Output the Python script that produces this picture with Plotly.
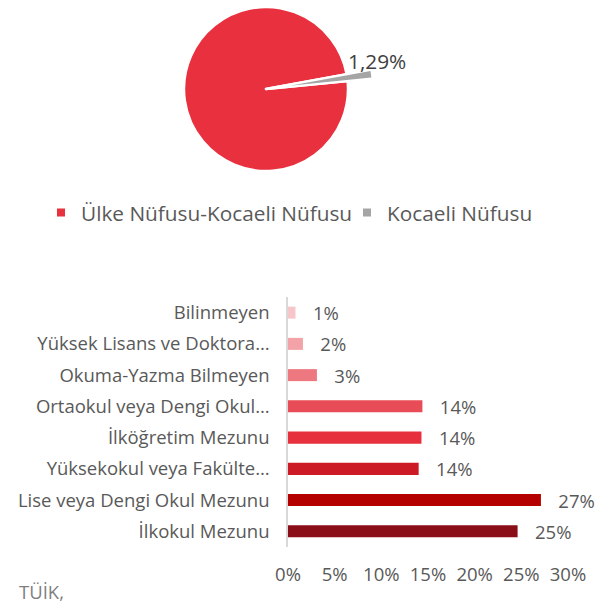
import math
import plotly.graph_objects as go

# ---------------- data ----------------
pie_labels = ["Ülke Nüfusu-Kocaeli Nüfusu", "Kocaeli Nüfusu"]
pie_values = [98.71, 1.29]
pie_colors = ["#E8303E", "#A5A5A5"]

bar_categories = [
    "Bilinmeyen",
    "Yüksek Lisans ve Doktora…",
    "Okuma-Yazma Bilmeyen",
    "Ortaokul veya Dengi Okul…",
    "İlköğretim Mezunu",
    "Yüksekokul veya Fakülte…",
    "Lise veya Dengi Okul Mezunu",
    "İlkokul Mezunu",
]
bar_values = [0.8, 1.6, 3.1, 14.4, 14.3, 14.0, 27.1, 24.6]
bar_colors = ["#F7C6CA", "#F3A3A8", "#EE7880", "#E84C57",
              "#E7303D", "#CC1B27", "#B50000", "#8A0E18"]

x_ticks = [0, 5, 10, 15, 20, 25, 30]
x_tick_labels = ["{}%".format(v) for v in x_ticks]
source_text = "TÜİK,"

# ---------------- layout constants ----------------
W, H = 608, 605
FONT = "Open Sans"
TXT = "#595959"
FS = 18.5
FS_BIG = 20.8

PIE_CX, PIE_CY, PIE_R = 266, 89, 82      # px
PULL_PX = 24
PULL_ANGLE = 82                          # clockwise from 12 o'clock (deg)

grey_span = 360 * pie_values[1] / sum(pie_values)
rotation = PULL_ANGLE + grey_span / 2


def pie_domain(cx, cy, r):
    return dict(x=[(cx - r) / W, (cx + r) / W],
                y=[(H - (cy + r)) / H, (H - (cy - r)) / H])


sin_a = math.sin(math.radians(PULL_ANGLE))
cos_a = math.cos(math.radians(PULL_ANGLE))
gcx, gcy = PIE_CX + PULL_PX * sin_a, PIE_CY - PULL_PX * cos_a
tip_x, tip_y = gcx + PIE_R * sin_a, gcy - PIE_R * cos_a
pct_text = "{:.2f}%".format(100 * pie_values[1] / sum(pie_values)).replace(".", ",")

fig = go.Figure()

# bar chart (first, so the cartesian axes are typed from it)
fig.add_trace(go.Bar(
    y=bar_categories, x=bar_values, orientation="h",
    marker=dict(color=bar_colors, line=dict(width=0)),
    texttemplate="\u00a0\u00a0\u00a0%{x:.0f}%", textposition="outside",
    outsidetextfont=dict(family=FONT, size=FS, color=TXT),
    constraintext="none", cliponaxis=False, showlegend=False,
))

# main pie (red), grey slice left transparent (it is drawn pulled out below)
fig.add_trace(go.Pie(
    labels=pie_labels, values=pie_values, sort=False, direction="clockwise",
    rotation=rotation,
    marker=dict(colors=[pie_colors[0], "rgba(0,0,0,0)"],
                line=dict(color="white", width=2.5)),
    textinfo="none", showlegend=False, hoverinfo="label+percent",
    domain=pie_domain(PIE_CX, PIE_CY, PIE_R),
))

# exploded grey slice
fig.add_trace(go.Pie(
    labels=pie_labels, values=pie_values, sort=False, direction="clockwise",
    rotation=rotation,
    marker=dict(colors=["rgba(0,0,0,0)", pie_colors[1]], line=dict(width=0)),
    textinfo="none", showlegend=False, hoverinfo="label+percent",
    domain=pie_domain(gcx, gcy, PIE_R),
))

# legend entries (on hidden axes), one legend box per entry
legend_ids = ["legend", "legend2"]
legend_x_px = [41, 347]
for lab, col, lid in zip(pie_labels, pie_colors, legend_ids):
    fig.add_trace(go.Scatter(
        x=[None], y=[None], mode="markers", name=lab,
        marker=dict(symbol="square", size=8, color=col),
        showlegend=True, hoverinfo="skip", xaxis="x2", yaxis="y2",
        legend=lid,
    ))

legend_style = dict(orientation="h", xanchor="left",
                    y=(H - 213) / H, yanchor="middle",
                    bgcolor="rgba(0,0,0,0)", borderwidth=0,
                    font=dict(family=FONT, size=FS_BIG, color=TXT),
                    itemclick=False, itemdoubleclick=False)

PLOT_L, PLOT_R = 288, 568
PLOT_T, PLOT_B = 297, 547

fig.update_layout(
    template="none",
    width=W, height=H, autosize=False,
    margin=dict(l=0, r=0, t=0, b=0, pad=0, autoexpand=False),
    paper_bgcolor="white", plot_bgcolor="white",
    separators=",.",
    font=dict(family=FONT, size=FS, color=TXT),
    bargap=0.616,
    legend=dict(x=legend_x_px[0] / W, **legend_style),
    legend2=dict(x=legend_x_px[1] / W, **legend_style),
    xaxis=dict(type="linear", domain=[PLOT_L / W, PLOT_R / W], range=[0, 30],
               tickmode="array", tickvals=x_ticks, ticktext=x_tick_labels,
               showgrid=False, zeroline=False, showline=False, ticks="",
               automargin=False, ticklabelstandoff=14,
               tickfont=dict(family=FONT, size=FS, color=TXT)),
    yaxis=dict(type="category", domain=[(H - PLOT_B) / H, (H - PLOT_T) / H],
               categoryorder="array", categoryarray=bar_categories,
               autorange="reversed", showgrid=False, zeroline=False,
               showline=True, linecolor="#D9D9D9", linewidth=1.5,
               ticks="", automargin=False, ticklabelstandoff=13,
               tickfont=dict(family=FONT, size=FS, color=TXT)),
    xaxis2=dict(visible=False, domain=[0, 0.01], anchor="y2", automargin=False),
    yaxis2=dict(visible=False, domain=[0.99, 1], anchor="x2", automargin=False),
    annotations=[
        dict(text=pct_text, x=(tip_x + 6) / W, y=(H - tip_y - 3) / H,
             xref="paper", yref="paper", xanchor="center", yanchor="bottom",
             showarrow=False, font=dict(family=FONT, size=FS_BIG, color="#404040")),
        dict(text=source_text, xref="paper", yref="paper",
             x=17 / W, y=(H - 591) / H, xanchor="left",
             yanchor="middle", showarrow=False,
             font=dict(family=FONT, size=FS, color="#7F7F7F")),
    ],
)

fig.write_html("out.html")
